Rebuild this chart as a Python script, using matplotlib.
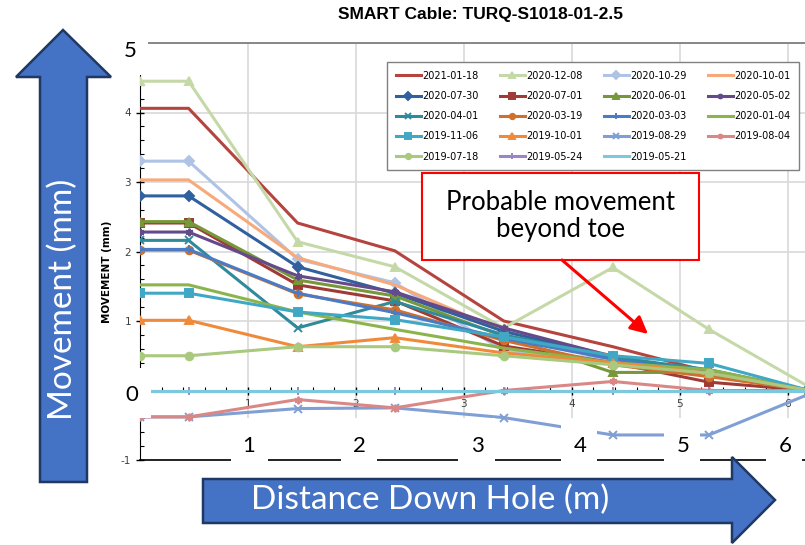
import numpy as np
import matplotlib
matplotlib.use('Agg')
import matplotlib.pyplot as plt
from matplotlib.ticker import MultipleLocator, FuncFormatter
from matplotlib.patches import Rectangle, Polygon

# distance down hole (m) of each reading
depth = [0, 0.45, 1.46, 2.36, 3.37, 4.38, 5.27, 6.2]

dates = ['2021-01-18', '2020-12-08', '2020-10-29', '2020-10-01',
         '2020-07-30', '2020-07-01', '2020-06-01', '2020-05-02',
         '2020-04-01', '2020-03-19', '2020-03-03', '2020-01-04',
         '2019-11-06', '2019-10-01', '2019-08-29', '2019-08-04',
         '2019-07-18', '2019-05-24', '2019-05-21']

# movement (mm) per survey
m_20210118 = [4.06, 4.06, 2.41, 2.01, 1.00, 0.63, 0.27, 0.00]
m_20201208 = [4.45, 4.45, 2.14, 1.78, 0.90, 1.77, 0.88, 0.05]
m_20201029 = [3.30, 3.30, 1.89, 1.55, 0.57, 0.45, 0.25, 0.00]
m_20201001 = [3.03, 3.03, 1.91, 1.52, 0.85, 0.50, 0.25, 0.00]
m_20200730 = [2.80, 2.80, 1.78, 1.40, 0.85, 0.48, 0.25, 0.00]
m_20200701 = [2.41, 2.41, 1.52, 1.29, 0.64, 0.40, 0.12, 0.00]
m_20200601 = [2.43, 2.43, 1.59, 1.36, 0.78, 0.26, 0.26, 0.00]
m_20200502 = [2.28, 2.28, 1.65, 1.42, 0.90, 0.49, 0.25, 0.00]
m_20200401 = [2.16, 2.16, 0.90, 1.28, 0.80, 0.48, 0.30, 0.00]
m_20200319 = [2.02, 2.02, 1.39, 1.16, 0.72, 0.37, 0.20, 0.00]
m_20200303 = [2.03, 2.03, 1.40, 1.12, 0.75, 0.45, 0.25, 0.00]
m_20200104 = [1.52, 1.52, 1.13, 0.88, 0.61, 0.40, 0.30, 0.00]
m_20191106 = [1.40, 1.40, 1.13, 1.02, 0.77, 0.50, 0.39, 0.00]
m_20191001 = [1.01, 1.01, 0.63, 0.76, 0.54, 0.40, 0.25, 0.00]
m_20190829 = [-0.38, -0.38, -0.26, -0.25, -0.39, -0.64, -0.64, -0.05]
m_20190804 = [-0.38, -0.38, -0.13, -0.25, 0.00, 0.13, 0.00, 0.00]
m_20190718 = [0.50, 0.50, 0.63, 0.63, 0.50, 0.37, 0.25, 0.00]
m_20190524 = [0, 0, 0, 0, 0, 0, 0, 0]
m_20190521 = [0, 0, 0, 0, 0, 0, 0, 0]

series = [m_20210118, m_20201208, m_20201029, m_20201001, m_20200730,
          m_20200701, m_20200601, m_20200502, m_20200401, m_20200319,
          m_20200303, m_20200104, m_20191106, m_20191001, m_20190829,
          m_20190804, m_20190718, m_20190524, m_20190521]

colors = ['#B5443F', '#C5D9A8', '#AFC4E4', '#F8A97A', '#31609F', '#A03A35',
          '#77983A', '#644A8A', '#2F8B9B', '#D0702C', '#4A7BC4', '#8CB44C',
          '#40A8C4', '#F08A3B', '#809FD4', '#D98886', '#A9C97E', '#9C85C4',
          '#7CC8DE']
star = (6, 2, 0)
markers = ['None', '^', 'D', 'None', 'D', 's', '^', star, 'x', 'o', '+',
           'None', 's', '^', 'x', star, 'o', '+', 'None']

W, H = 805, 545
fig = plt.figure(figsize=(W / 100, H / 100), dpi=100)
fig.patch.set_facecolor('white')
ax = fig.add_axes([140 / W, 1 - 460 / H, 665 / W, 417 / H])

handles = []
for i, (lab, y) in enumerate(zip(dates, series)):
    mk = markers[i]
    h, = ax.plot(depth, y, color=colors[i], lw=2.2, marker=mk, ms=5.5,
                 mew=1.4, label=lab, zorder=3 + i * 0.01)
    handles.append(h)

ax.set_xlim(0, 6.16)
ax.set_ylim(-1, 5)
ax.xaxis.set_major_locator(MultipleLocator(1))
ax.xaxis.set_minor_locator(MultipleLocator(0.2))
ax.yaxis.set_major_locator(MultipleLocator(1))
ax.yaxis.set_minor_locator(MultipleLocator(0.2))
# 0 and 5 are written large on the slide instead
ax.xaxis.set_major_formatter(FuncFormatter(
    lambda v, p: '' if abs(v) < 1e-9 else '%d' % round(v)))
ax.yaxis.set_major_formatter(FuncFormatter(
    lambda v, p: '' if round(v) in (0, 5) else '%d' % round(v)))
ax.grid(True, which='major', color='#D9D9D9', lw=1.2)
ax.set_axisbelow(True)

ax.spines['bottom'].set_position(('data', 0))
ax.spines['right'].set_visible(False)
ax.spines['top'].set_color('#7F7F7F')
ax.spines['top'].set_linewidth(1.3)
ax.axhline(-1, color='black', lw=1.2, clip_on=False, zorder=2)

ax.tick_params(which='major', direction='inout', length=6, width=1,
               labelsize=7.5, labelcolor='#404040')
ax.tick_params(which='minor', direction='in', length=3, width=0.8)
ax.tick_params(axis='x', pad=3)
ax.set_ylabel('MOVEMENT (mm)', fontsize=7.5, fontweight='bold')
ax.yaxis.set_label_coords((112 - 140) / 665, (460 - 272) / 417)

# legend laid out row by row, four columns
order = [0, 4, 8, 12, 16, 1, 5, 9, 13, 17, 2, 6, 10, 14, 18, 3, 7, 11, 15]
leg = ax.legend([handles[k] for k in order], [dates[k] for k in order],
                ncol=4, loc='upper left',
                bbox_to_anchor=((387 - 140) / 665, (460 - 62) / 417),
                borderaxespad=0, fontsize=7, handlelength=2.6,
                handletextpad=0.1, columnspacing=2.2, labelspacing=1.05,
                borderpad=0.9, fancybox=False, edgecolor='#808080',
                framealpha=1, markerscale=0.7)
leg.get_frame().set_linewidth(1.0)

fig.text(480 / W, 1 - 15 / H, 'SMART Cable: TURQ-S1018-01-2.5',
         ha='center', va='center', fontsize=12.5, fontweight='bold',
         family=['Liberation Sans Narrow', 'Liberation Sans', 'DejaVu Sans'])

# slide overlay drawn in pixel units
ov = fig.add_axes([0, 0, 1, 1], zorder=5)
ov.set_xlim(0, W)
ov.set_ylim(H, 0)
ov.axis('off')

big = dict(family=['Lato', 'DejaVu Sans'], ha='center', va='center')

# white boxes with the enlarged axis numbers
boxes = [(112, 39, 36, 36, '5', 130, 51), (114, 368, 37, 50, '0', 132, 395),
         (231, 418, 37, 52, '1', 249, 446), (341, 418, 36, 52, '2', 359, 446),
         (458, 418, 37, 52, '3', 477, 446), (561, 418, 36, 52, '4', 580, 446),
         (664, 418, 36, 52, '5', 683, 446), (766, 418, 36, 52, '6', 785, 446)]
for bx, by, bw, bh, txt, tx, ty in boxes:
    ov.add_patch(Rectangle((bx, by), bw, bh, facecolor='white',
                           edgecolor='none'))
    ov.text(tx, ty, txt, fontsize=16, color='black', **big)

arrow_fc = '#4472C4'
arrow_ec = '#203864'
up = Polygon([(40, 482), (40, 77), (16, 77), (63, 30), (111, 77), (87, 77),
              (87, 482)], closed=True, facecolor=arrow_fc, edgecolor=arrow_ec,
             lw=1.8)
ov.add_patch(up)
ov.text(63, 299, 'Movement (mm)', rotation=90, fontsize=24, color='white',
        **big)

right = Polygon([(203, 479), (732, 479), (732, 457), (775, 500), (732, 543),
                 (732, 523), (203, 523)], closed=True, facecolor=arrow_fc,
                edgecolor=arrow_ec, lw=1.8)
ov.add_patch(right)
ov.text(430, 500, 'Distance Down Hole (m)', fontsize=24, color='white', **big)

# callout
ov.add_patch(Rectangle((422, 173), 277, 87, facecolor='white',
                       edgecolor='#FF0000', lw=1.5))
ov.text(560, 216, 'Probable movement\nbeyond toe', fontsize=18.5,
        color='black', linespacing=1.15, **big)
ov.annotate('', xy=(648, 334), xytext=(562, 260),
            arrowprops=dict(arrowstyle='-|>', color='#FF0000', lw=2.2,
                            mutation_scale=26, shrinkA=0, shrinkB=0))

fig.savefig('out.png', dpi=100)
